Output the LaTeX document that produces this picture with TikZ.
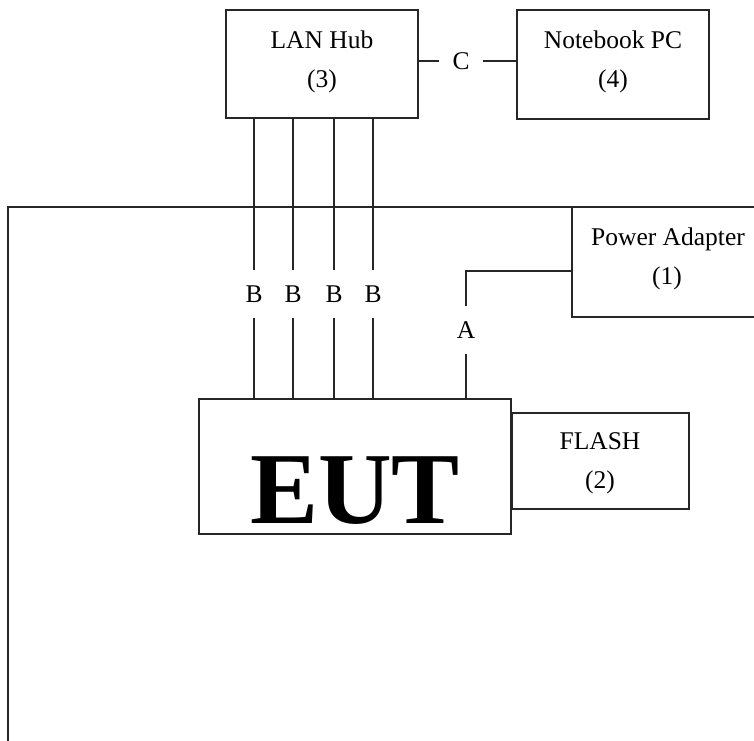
\documentclass[tikz,border=0pt]{standalone}
\usepackage{fontspec}
\setmainfont{Liberation Serif}
\begin{document}
\begin{tikzpicture}[x=1pt,y=-1pt,
  line/.style={draw=black!85, line width=1.25pt},
  boxnode/.style={line, rectangle, inner sep=0pt, outer sep=0pt},
  lbl/.style={font=\fontsize{25.5}{30}\selectfont, inner sep=0pt, anchor=base},
  conlbl/.style={font=\fontsize{25.5}{30}\selectfont, inner sep=0pt, minimum height=48pt},
  eutlbl/.style={font=\fontsize{102}{110}\selectfont\bfseries, inner sep=0pt, anchor=base}]
\useasboundingbox (0,0) rectangle (754,740);
\clip (0,0) rectangle (754,740);

% boxes
\node[boxnode, minimum width=192pt, minimum height=108pt] (hub) at (322,64) {};
\node[boxnode, minimum width=192pt, minimum height=109pt] (nb) at (613,64.5) {};
\node[boxnode, minimum width=200pt, minimum height=110pt] (pa) at (672,262) {};
\node[boxnode, minimum width=312pt, minimum height=135pt] (eut) at (355,466.5) {};
\node[boxnode, minimum width=177pt, minimum height=96pt] (flash) at (600.5,461) {};

% texts
\node[lbl] (hubt) at (322,48) {LAN Hub};
\node[lbl] (hubn) at (322,87) {(3)};
\node[lbl] (nbt) at (613,48) {Notebook PC};
\node[lbl] (nbn) at (613,87) {(4)};
\node[lbl] (pat) at (668,245) {Power Adapter};
\node[lbl] (pan) at (667,284) {(1)};
\node[lbl] (flt) at (600,449) {FLASH};
\node[lbl] (fln) at (600,488) {(2)};
\node[eutlbl] (eutt) at (355,523) {EUT};

% connector C
\node[font=\fontsize{25.5}{30}\selectfont, inner ysep=0pt, inner xsep=13pt] (c) at (461,61) {C};
\draw[line] (c.west -| hub.east) -- (c.west);
\draw[line] (c.east) -- (c.east -| nb.west);

% connectors B
\foreach \i/\x in {1/254,2/293,3/334,4/373}{
  \node[conlbl] (b\i) at (\x,294) {B};
  \draw[line] (b\i |- hub.south) -- (b\i.north);
  \draw[line] (b\i.south) -- (b\i |- eut.north);
}

% connector A
\node[conlbl] (a) at (466,330) {A};
\coordinate (abend) at (466,271);
\draw[line] (abend -| pa.west) -- (abend) -- (a.north);
\draw[line] (a.south) -- (a |- eut.north);

% long line
\coordinate (corner) at (8,207);
\coordinate (lend) at (8,742);
\draw[line] (lend) -- (corner) -- (corner -| pa.west);
\end{tikzpicture}
\end{document}
